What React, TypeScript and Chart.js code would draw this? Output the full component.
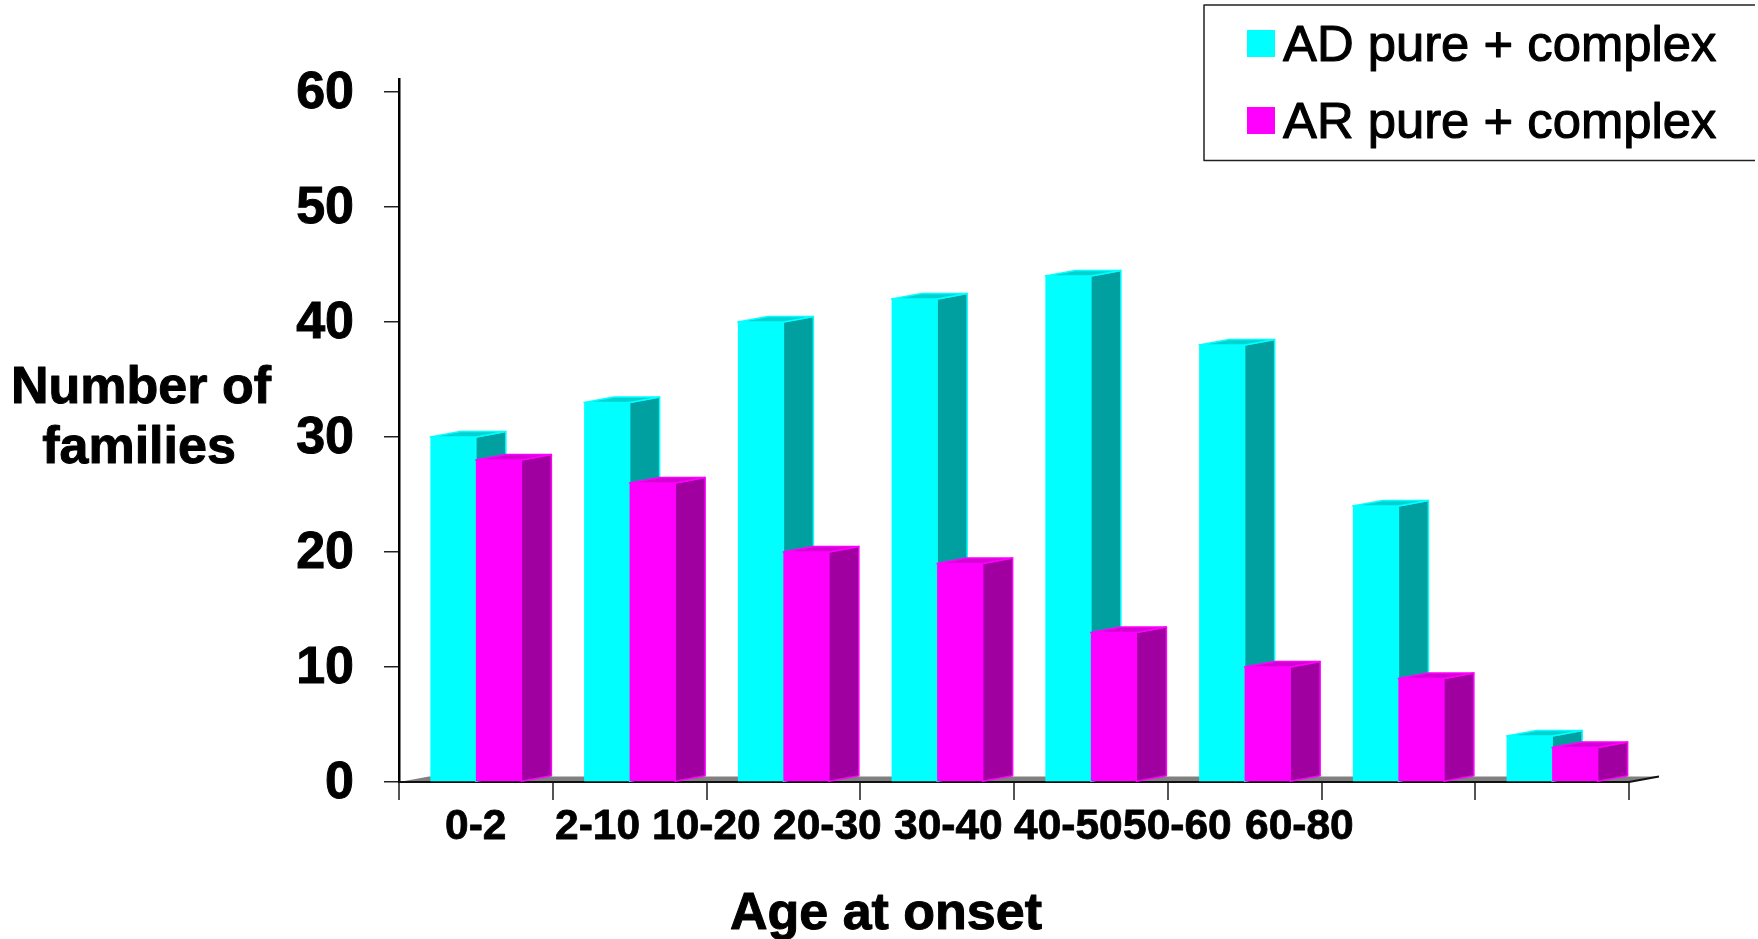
import { useEffect, useRef } from "react";
import { Chart, registerables } from "chart.js";

Chart.register(...registerables);

const FONT = "'Liberation Sans', Arial, sans-serif";

// Age bands, in order of the bars
const ageBands = ["0-2", "2-10", "10-20", "20-30", "30-40", "40-50", "50-60", "60-80"];

// Families per age band
const adFamilies = [30, 33, 40, 42, 44, 38, 24, 4];
const arFamilies = [28, 26, 20, 19, 13, 10, 9, 3];

const seriesNames = ["AD pure + complex", "AR pure + complex"];
const yTitleLines = ["Number of", "families"];
const xTitle = "Age at onset";

// Hand-placed caption row under the axis: it sits on its own pitch, not on the bar groups
const captionLefts = [445, 555, 652, 773, 894, 1014, 1123, 1245];
const CAPTION_BASELINE = 839;

const CYAN = "#00ffff";
const CYAN_SIDE = "#00a0a0";
const CYAN_TOP = "#00d2d2";
const MAGENTA = "#ff00ff";
const MAGENTA_SIDE = "#a000a0";
const MAGENTA_TOP = "#d400d4";

// Oblique projection offset of the bars' back faces and of the floor
const DEPTH_X = 30;
const DEPTH_Y = 5.5;

function polygon(ctx: CanvasRenderingContext2D, pts: number[][], fill: string, stroke?: string) {
  ctx.beginPath();
  pts.forEach(([x, y], i) => (i ? ctx.lineTo(x, y) : ctx.moveTo(x, y)));
  ctx.closePath();
  ctx.fillStyle = fill;
  ctx.fill();
  if (stroke) {
    ctx.strokeStyle = stroke;
    ctx.lineWidth = 1.5;
    ctx.lineJoin = "round";
    ctx.stroke();
  }
}

function drawFloor(ctx: CanvasRenderingContext2D, a: any) {
  polygon(
    ctx,
    [
      [a.left, a.bottom],
      [a.left + DEPTH_X, a.bottom - DEPTH_Y],
      [a.right + DEPTH_X, a.bottom - DEPTH_Y],
      [a.right, a.bottom],
    ],
    "#808080",
  );
  ctx.strokeStyle = "#111";
  ctx.lineWidth = 2;
  ctx.beginPath();
  ctx.moveTo(a.left, a.bottom);
  ctx.lineTo(a.right, a.bottom);
  ctx.lineTo(a.right + DEPTH_X, a.bottom - DEPTH_Y);
  ctx.stroke();
}

// Side and top faces of one bar element
function drawFaces(ctx: CanvasRenderingContext2D, bar: any, ds: any) {
  const { x, y, base, width } = bar.getProps(["x", "y", "base", "width"], true);
  const l = x - width / 2;
  const r = x + width / 2;
  polygon(
    ctx,
    [
      [r, y],
      [r + DEPTH_X, y - DEPTH_Y],
      [r + DEPTH_X, base - DEPTH_Y],
      [r, base],
    ],
    ds.sideColor,
    ds.backgroundColor,
  );
  polygon(
    ctx,
    [
      [l, y],
      [r, y],
      [r + DEPTH_X, y - DEPTH_Y],
      [l + DEPTH_X, y - DEPTH_Y],
    ],
    ds.topColor,
    ds.backgroundColor,
  );
}

// Takes over dataset painting so the second series lands in front of the first,
// with the extruded faces behind each front face
const extrudePlugin = {
  id: "extrude",
  beforeDatasetsDraw(chart: any) {
    const { ctx, chartArea } = chart;
    ctx.save();
    drawFloor(ctx, chartArea);
    chart.data.datasets.forEach((ds: any, i: number) => {
      const meta = chart.getDatasetMeta(i);
      meta.data.forEach((bar: any) => drawFaces(ctx, bar, ds));
      meta.controller.draw();
    });
    ctx.restore();
    return false;
  },
};

// Filled text with a hairline outline for a heavier slide-style weight
function heavyText(ctx: CanvasRenderingContext2D, text: string, x: number, y: number) {
  ctx.fillText(text, x, y);
  ctx.strokeText(text, x, y);
}

// Axis captions, axis titles and the legend box
const annotationPlugin = {
  id: "annotations",
  afterDraw(chart: any) {
    const { ctx } = chart;
    ctx.save();
    ctx.fillStyle = "#000";
    ctx.strokeStyle = "#000";
    ctx.lineJoin = "round";
    ctx.textBaseline = "alphabetic";

    ctx.lineWidth = 0.8;
    ctx.font = `bold 42.5px ${FONT}`;
    ctx.textAlign = "left";
    chart.data.labels.forEach((label: string, i: number) => {
      heavyText(ctx, label, captionLefts[i], CAPTION_BASELINE);
    });

    ctx.lineWidth = 1;
    ctx.font = `bold 52px ${FONT}`;
    ctx.textAlign = "center";
    heavyText(ctx, yTitleLines[0], 141, 403);
    heavyText(ctx, yTitleLines[1], 139, 463);
    heavyText(ctx, xTitle, 886, 929);

    // The box runs off the right edge, so it has no right-hand side
    ctx.strokeStyle = "#222";
    ctx.lineWidth = 1.5;
    ctx.beginPath();
    ctx.moveTo(1755, 5);
    ctx.lineTo(1204, 5);
    ctx.lineTo(1204, 160.5);
    ctx.lineTo(1755, 160.5);
    ctx.stroke();

    ctx.font = `50.8px ${FONT}`;
    ctx.textAlign = "left";
    ctx.strokeStyle = "#000";
    ctx.lineWidth = 1.1;
    chart.data.datasets.forEach((ds: any, i: number) => {
      const top = i === 0 ? 30 : 107;
      const baseline = i === 0 ? 61 : 138;
      ctx.fillStyle = ds.backgroundColor;
      ctx.fillRect(1247, top, 28, 27);
      ctx.fillStyle = "#000";
      heavyText(ctx, ds.label, 1283, baseline);
    });
    ctx.restore();
  },
};

export default function App() {
  const ref = useRef<HTMLCanvasElement>(null);

  useEffect(() => {
    const chart = new Chart(ref.current!, {
      type: "bar",
      plugins: [extrudePlugin, annotationPlugin],
      data: {
        labels: ageBands,
        datasets: [
          {
            label: seriesNames[0],
            data: adFamilies,
            backgroundColor: CYAN,
            sideColor: CYAN_SIDE,
            topColor: CYAN_TOP,
            borderWidth: 0,
          },
          {
            label: seriesNames[1],
            data: arFamilies,
            backgroundColor: MAGENTA,
            sideColor: MAGENTA_SIDE,
            topColor: MAGENTA_TOP,
            borderWidth: 0,
          },
        ] as any,
      },
      options: {
        responsive: false,
        animation: false,
        layout: { padding: { left: 0, right: 129, top: 79, bottom: 0 } },
        datasets: { bar: { categoryPercentage: 0.592, barPercentage: 1 } },
        plugins: { legend: { display: false }, title: { display: false }, tooltip: { enabled: false } },
        scales: {
          x: {
            afterFit: (s: any) => {
              s.height = 157;
            },
            ticks: { display: false },
            grid: { drawOnChartArea: false, tickLength: 18, color: "#555", lineWidth: 2 },
            border: { color: "#111", width: 2 },
          },
          y: {
            min: 0,
            max: 61.13,
            afterFit: (s: any) => {
              s.width = 399;
            },
            ticks: {
              stepSize: 10,
              includeBounds: false,
              padding: 30,
              labelOffset: 2,
              color: "#000",
              textStrokeColor: "#000",
              textStrokeWidth: 1,
              font: { family: FONT, weight: "bold", size: 52 },
            },
            grid: { drawOnChartArea: false, tickLength: 15, color: "#222", lineWidth: 1.5 },
            border: { color: "#000", width: 2.5 },
          },
        },
      } as any,
    });
    return () => chart.destroy();
  }, []);

  return (
    <div style={{ position: "fixed", left: 0, top: 0, width: 1758, height: 939 }}>
      <canvas ref={ref} width={1758} height={939} />
    </div>
  );
}
